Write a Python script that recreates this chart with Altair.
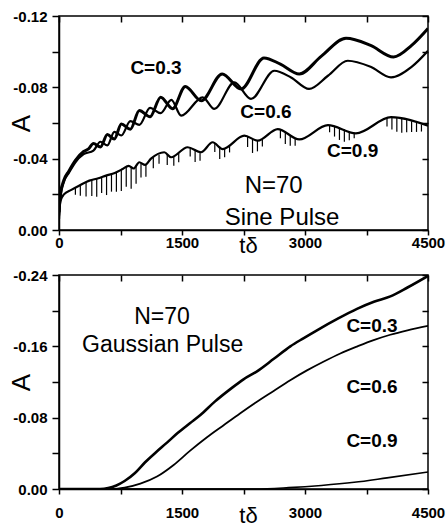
import altair as alt
import pandas as pd

# ---------------- data: top panel (Sine Pulse) ----------------
sine_c03_t = [0, 20, 60, 120, 200, 300, 360, 420, 505, 590, 675, 760, 870, 980, 1110,
              1240, 1385, 1540, 1735, 1990, 2220, 2500, 2700, 2930, 3200, 3500, 3800,
              4080, 4300, 4500]
sine_c03_A = [-0.010, -0.021, -0.028, -0.033, -0.039, -0.044, -0.0455, -0.0485, -0.0465,
              -0.0535, -0.051, -0.0595, -0.0565, -0.067, -0.0635, -0.0745, -0.068, -0.0805,
              -0.0725, -0.0875, -0.079, -0.0965, -0.093, -0.0875, -0.0975, -0.1075, -0.1035,
              -0.097, -0.1035, -0.113]

sine_c06_t = [0, 20, 60, 120, 200, 300, 420, 505, 590, 675, 760, 870, 980, 1110, 1240,
              1370, 1490, 1752, 1894, 2138, 2341, 2626, 2830, 3049, 3280, 3521, 3800,
              4049, 4300, 4500]
sine_c06_A = [-0.008, -0.019, -0.027, -0.032, -0.038, -0.0425, -0.0445, -0.0495, -0.0475,
              -0.055, -0.053, -0.061, -0.059, -0.0685, -0.0655, -0.073, -0.0641, -0.0744,
              -0.0679, -0.0828, -0.0735, -0.0893, -0.0855, -0.0791, -0.0865, -0.0949,
              -0.0915, -0.0856, -0.0915, -0.1005]

sine_c09_t = [0, 15, 60, 150, 250, 370, 480, 573, 680, 777, 850, 910, 979, 1050, 1122,
              1284, 1366, 1569, 1732, 1874, 1996, 2260, 2423, 2667, 2930, 3280, 3620,
              4049, 4500]
sine_c09_A = [-0.006, -0.016, -0.020, -0.0225, -0.025, -0.0277, -0.029, -0.0305, -0.032,
              -0.0342, -0.036, -0.0345, -0.038, -0.0365, -0.040, -0.0436, -0.0408, -0.0464,
              -0.0436, -0.0492, -0.0454, -0.0529, -0.0501, -0.0566, -0.0508, -0.0588,
              -0.0542, -0.0633, -0.0585]

# fast oscillation "hatching" hanging below the C=0.9 curve
spike_t = [200, 260, 330, 400, 460, 520, 580, 640, 700, 760, 820, 880, 940, 1000, 1060,
           1150, 1220, 1320, 1400, 1460, 1600, 1660, 1720, 1900, 1960, 2020, 2080, 2300,
           2360, 2420, 2480, 2700, 2760, 2820, 2880, 3300, 3360, 3420, 3480, 3540, 3600,
           4000, 4060, 4120, 4180, 4240, 4300, 4360, 4420]
spike_top = [-0.0237, -0.0252, -0.0268, -0.0281, -0.0287, -0.0297, -0.0306, -0.0315,
             -0.0325, -0.0338, -0.0352, -0.0352, -0.0360, -0.0375, -0.0368, -0.0406,
             -0.0422, -0.0425, -0.0410, -0.0430, -0.0462, -0.0452, -0.0438, -0.0488,
             -0.0468, -0.0458, -0.0475, -0.0525, -0.0512, -0.0501, -0.0508, -0.0564,
             -0.0552, -0.0532, -0.0512, -0.0588, -0.0584, -0.0575, -0.0565, -0.0553,
             -0.0544, -0.0630, -0.0633, -0.0631, -0.0625, -0.0618, -0.0610, -0.0600,
             -0.0592]
spike_bottom = [-0.0197, -0.0192, -0.0188, -0.0191, -0.0187, -0.0207, -0.0196, -0.0215,
                -0.0215, -0.0218, -0.0242, -0.0232, -0.0260, -0.0295, -0.0298, -0.0346,
                -0.0372, -0.0365, -0.0360, -0.0380, -0.0412, -0.0382, -0.0388, -0.0438,
                -0.0398, -0.0408, -0.0435, -0.0465, -0.0432, -0.0441, -0.0468, -0.0514,
                -0.0482, -0.0472, -0.0472, -0.0548, -0.0524, -0.0505, -0.0495, -0.0503,
                -0.0514, -0.0580, -0.0563, -0.0551, -0.0545, -0.0548, -0.0550, -0.0550,
                -0.0552]

# ---------------- data: bottom panel (Gaussian Pulse) ----------------
gauss_c03_t = [0, 500, 600, 700, 800, 927, 1050, 1180, 1317, 1450, 1600, 1724, 1900, 2089,
               2250, 2415, 2620, 2821, 2980, 3146, 3400, 3634, 3840, 4041, 4250, 4500]
gauss_c03_A = [0.0, 0.0, -0.001, -0.004, -0.009, -0.018, -0.030, -0.041, -0.052, -0.063,
               -0.074, -0.083, -0.098, -0.112, -0.123, -0.132, -0.146, -0.160, -0.169,
               -0.178, -0.191, -0.202, -0.210, -0.216, -0.226, -0.239]

gauss_c06_t = [0, 650, 800, 992, 1195, 1398, 1600, 1805, 2000, 2211, 2400, 2618, 2820,
               3024, 3230, 3431, 3640, 3837, 4040, 4250, 4500]
gauss_c06_A = [0.0, 0.0, -0.0015, -0.006, -0.014, -0.027, -0.043, -0.058, -0.071, -0.085,
               -0.097, -0.110, -0.122, -0.133, -0.143, -0.152, -0.160, -0.167, -0.173,
               -0.178, -0.183]

gauss_c09_t = [0, 2400, 2800, 3200, 3600, 4000, 4500]
gauss_c09_A = [0.0, 0.0, -0.0015, -0.004, -0.0075, -0.0125, -0.019]

x_ticks = [0, 750, 1500, 2250, 3000, 3750, 4500]
top_y_ticks = [0.0, -0.02, -0.04, -0.06, -0.08, -0.10, -0.12]
bot_y_ticks = [0.0, -0.04, -0.08, -0.12, -0.16, -0.20, -0.24]

FONT = "Liberation Sans"


def series_df(pairs):
    rows = []
    for name, ts, As in pairs:
        for t, a in zip(ts, As):
            rows.append({"t": t, "A": a, "series": name})
    return pd.DataFrame(rows)


def make_panel(df, ymax, y_ticks, label_every, widths, texts, label_pad, title_y,
               spikes=None):
    xs = alt.Scale(domain=[0, 4500], nice=False, zero=False)
    ys = alt.Scale(domain=[0, ymax], nice=False, zero=False)
    lab_expr_y = (f"round(abs(datum.value) / {label_every} * 1000) % 1000 == 0 ? "
                  "replace(format(datum.value, '.2f'), '\u2212', '-') : ''")
    x_axis = alt.Axis(values=x_ticks, title="t\u03b4",
                      labelExpr="datum.value % 1500 == 0 ? format(datum.value, 'd') : ''",
                      titleFont=FONT, titleFontSize=22, titleFontWeight="normal",
                      titleX=189, titleY=title_y, titleBaseline="middle", titleAlign="center",
                      titleColor="black",
                      labelFont=FONT, labelFontSize=15, labelFontWeight="bold",
                      labelColor="black", labelPadding=label_pad, labelFlush=False,
                      labelOverlap=False, tickSize=5, tickWidth=1.5, tickColor="black",
                      domainColor="black", domainWidth=1.5, grid=False)
    y_axis = alt.Axis(values=y_ticks, title="A", labelExpr=lab_expr_y,
                      titleFont=FONT, titleFontSize=26, titleFontWeight="normal",
                      titleAngle=270, titleX=-38, titleY=107, titleAlign="center",
                      titleBaseline="middle", titleColor="black",
                      labelFont=FONT, labelFontSize=15, labelFontWeight="bold",
                      labelColor="black", labelPadding=5, labelFlush=False,
                      labelOverlap=False, tickSize=7, tickWidth=1.5, tickColor="black",
                      domainColor="black", domainWidth=1.5, grid=False)
    x_top = alt.Axis(orient="top", values=x_ticks, labels=False, domain=False, title=None,
                     tickSize=6, offset=-6, tickWidth=1.5, tickColor="black", grid=False)
    y_right = alt.Axis(orient="right", values=y_ticks, labels=False, domain=False,
                       title=None, tickSize=6, offset=-6, tickWidth=1.5, tickColor="black",
                       grid=False)

    base = alt.Chart(df)
    layers = []
    first = True
    for name, w in widths:
        ax_x = x_axis if first else None
        ax_y = y_axis if first else None
        layers.append(
            base.transform_filter(alt.datum.series == name)
            .mark_line(color="black", strokeWidth=w, interpolate="monotone", clip=True)
            .encode(x=alt.X("t:Q", scale=xs, axis=ax_x),
                    y=alt.Y("A:Q", scale=ys, axis=ax_y))
        )
        first = False
    if spikes is not None:
        layers.append(
            alt.Chart(spikes).mark_rule(color="black", strokeWidth=1.2)
            .encode(x=alt.X("t:Q", scale=xs, axis=None),
                    y=alt.Y("top:Q", scale=ys, axis=None),
                    y2="bottom:Q")
        )
    # inward ticks on the top and right edges
    layers.append(
        base.mark_line(opacity=0)
        .encode(x=alt.X("t:Q", scale=xs, axis=x_top),
                y=alt.Y("A:Q", scale=ys, axis=y_right))
    )
    for txt, t, a, size, weight in texts:
        tdf = pd.DataFrame({"t": [t], "A": [a], "label": [txt]})
        layers.append(
            alt.Chart(tdf).mark_text(font=FONT, fontSize=size, fontWeight=weight,
                                     color="black", align="center", baseline="middle")
            .encode(x=alt.X("t:Q", scale=xs, axis=None),
                    y=alt.Y("A:Q", scale=ys, axis=None),
                    text="label:N")
        )
    return (alt.layer(*layers)
            .resolve_axis(x="independent", y="independent")
            .properties(width=369, height=214))


top_df = series_df([("C=0.3", sine_c03_t, sine_c03_A),
                    ("C=0.6", sine_c06_t, sine_c06_A),
                    ("C=0.9", sine_c09_t, sine_c09_A)])
spikes_df = pd.DataFrame({"t": spike_t, "top": spike_top, "bottom": spike_bottom})
bot_df = series_df([("C=0.3", gauss_c03_t, gauss_c03_A),
                    ("C=0.6", gauss_c06_t, gauss_c06_A),
                    ("C=0.9", gauss_c09_t, gauss_c09_A)])

top_texts = [("C=0.3", 1183, -0.0908, 19, "bold"),
             ("C=0.6", 2524, -0.0663, 19, "bold"),
             ("C=0.9", 3581, -0.0445, 19, "bold"),
             ("N=70", 2618, -0.0248, 24, "normal"),
             ("Sine Pulse", 2720, -0.0065, 24, "normal")]
bot_texts = [("N=70", 1256, -0.1925, 23, "normal"),
             ("Gaussian Pulse", 1264, -0.1610, 23, "normal"),
             ("C=0.3", 3817, -0.183, 19, "bold"),
             ("C=0.6", 3817, -0.114, 19, "bold"),
             ("C=0.9", 3817, -0.054, 19, "bold")]

top = make_panel(top_df, -0.12, top_y_ticks, 0.04,
                 [("C=0.3", 3.0), ("C=0.6", 2.2), ("C=0.9", 2.2)],
                 top_texts, label_pad=0, title_y=15, spikes=spikes_df)
bottom = make_panel(bot_df, -0.24, bot_y_ticks, 0.08,
                    [("C=0.3", 2.6), ("C=0.6", 1.8), ("C=0.9", 1.6)],
                    bot_texts, label_pad=11, title_y=26)

chart = (alt.vconcat(top, bottom, spacing=10)
         .properties(padding={"left": 7, "top": 8, "right": 0, "bottom": 0},
                     background="white")
         .configure_view(stroke="black", strokeWidth=1.5))

chart.save("out.html", embed_options={"renderer": "svg", "actions": False})
